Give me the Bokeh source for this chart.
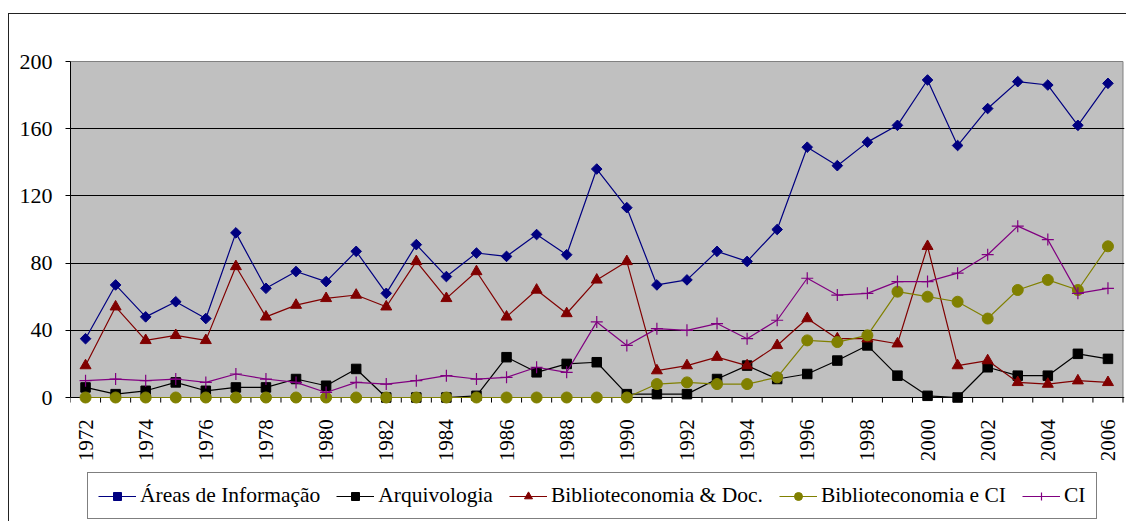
import math
from bokeh.plotting import figure
from bokeh.models import (Range1d, FixedTicker, Legend, LegendItem, Span)
from bokeh.core.properties import value
from bokeh.embed import file_html
from bokeh.resources import INLINE

# ---- data -------------------------------------------------------------
years = list(range(1972, 2007))

areas_informacao = [35, 67, 48, 57, 47, 98, 65, 75, 69, 87,
                    62, 91, 72, 86, 84, 97, 85, 136, 113, 67, 70, 87, 81,
                    100, 149, 138, 152, 162, 189, 150, 172, 188, 186, 162, 187]
arquivologia = [6, 2, 4, 9, 4, 6, 6, 11, 7, 17,
                0, 0, 0, 1, 24, 15, 20, 21, 2, 2, 2, 11, 19,
                11, 14, 22, 31, 13, 1, 0, 18, 13, 13, 26, 23]
biblio_doc = [19, 54, 34, 37, 34, 78, 48, 55, 59, 61,
              54, 81, 59, 75, 48, 64, 50, 70, 81, 16, 19, 24, 19,
              31, 47, 35, 35, 32, 90, 19, 22, 9, 8, 10, 9]
biblio_ci = [0] * 19 + [8, 9, 8, 8, 12, 34, 33, 37, 63, 60, 57, 47, 64, 70, 64, 90]
ci = [10, 11, 10, 11, 9, 14, 11, 9, 3, 9,
      8, 10, 13, 11, 12, 18, 15, 45, 31, 41, 40, 44, 35,
      46, 71, 61, 62, 69, 69, 74, 85, 102, 94, 62, 65]

series_names = ["Áreas de Informação", "Arquivologia", "Biblioteconomia & Doc.",
                "Biblioteconomia e CI", "CI"]
series_values = [areas_informacao, arquivologia, biblio_doc, biblio_ci, ci]

x_tick_years = years[::2]
x_tick_labels = [str(y) for y in x_tick_years]
y_ticks = [0, 40, 80, 120, 160, 200]

# ---- styles -----------------------------------------------------------
FONT = "Liberation Serif"
colors = ["#000080", "#000000", "#800000", "#808000", "#800080"]
markers = ["square", "square", "triangle", "circle", "cross"]
angles = [math.pi / 4, 0, 0, 0, 0]
sizes = [7.5, 9.5, 11, 11, 12]
TICK_LEN = 3.0        # data units (~5 px)
LABEL_GAP = 13.0      # data units below zero where year labels start

W, H = 1118, 508
p = figure(width=W, height=H, output_backend="svg", toolbar_location=None,
           x_range=Range1d(years[0] - 0.5, years[-1] + 0.55),
           y_range=Range1d(-74.4, 200.6),
           min_border_left=61, min_border_right=3,
           min_border_top=46, min_border_bottom=0)
p.margin = (14, 0, 0, 9)
p.styles = {"box-shadow": "-1px -1px 0px 0px #222222"}
p.background_fill_color = "white"
p.border_fill_color = "white"
p.outline_line_color = None

# gray plot area
p.quad(left=[years[0] - 0.5], right=[years[-1] + 0.5], bottom=[y_ticks[0]],
       top=[y_ticks[-1]], fill_color="#C0C0C0", line_color="#808080",
       line_width=1, level="image")

# grid
p.xgrid.grid_line_color = None
p.ygrid.ticker = FixedTicker(ticks=y_ticks[1:-1])
p.ygrid.grid_line_color = "black"
p.ygrid.grid_line_width = 1

# y axis
p.yaxis.ticker = FixedTicker(ticks=y_ticks)
p.yaxis.bounds = (y_ticks[0], y_ticks[-1])
p.yaxis.axis_line_color = "black"
p.yaxis.major_tick_line_color = "black"
p.yaxis.major_tick_in = 0
p.yaxis.major_tick_out = 5
p.yaxis.minor_tick_line_color = None
p.yaxis.major_label_text_font = FONT
p.yaxis.major_label_text_font_size = "22px"
p.yaxis.major_label_text_color = "black"
p.yaxis.major_label_standoff = 13

# x axis: line at zero, ticks between categories, vertical year labels
p.xaxis.visible = False
p.add_layout(Span(location=y_ticks[0], dimension="width", line_color="black",
                  line_width=1, level="underlay"))
bounds = [y - 0.5 for y in years] + [years[-1] + 0.5]
p.segment(x0=bounds, y0=[y_ticks[0]] * len(bounds), x1=bounds,
          y1=[y_ticks[0] - TICK_LEN] * len(bounds), line_color="black", line_width=1)
p.text(x=x_tick_years, y=[y_ticks[0] - LABEL_GAP] * len(x_tick_years), text=x_tick_labels,
       angle=math.pi / 2, text_align="right", text_baseline="middle",
       text_font=value(FONT), text_font_size="21px", text_color="black")

# series
items = []
for name, vals, c, m, a, s in zip(series_names, series_values, colors, markers, angles, sizes):
    rl = p.line(years, vals, line_color=c, line_width=1.2)
    rm = p.scatter(years, vals, marker=m, angle=a, size=s, fill_color=c,
                   line_color=c, line_width=1.2 if m == "cross" else 1)
    items.append(LegendItem(label=name, renderers=[rl, rm]))

legend = Legend(items=items, orientation="horizontal", location=(17, 3),
                label_text_font=FONT, label_text_font_size="21.5px",
                label_text_color="black",
                glyph_width=38, glyph_height=20, label_height=20,
                padding=10, spacing=16, label_standoff=4, margin=0,
                border_line_color="black", border_line_width=1.5,
                background_fill_color="white", background_fill_alpha=1)
p.add_layout(legend, "center")

open("out.html", "w").write(file_html(p, INLINE))
